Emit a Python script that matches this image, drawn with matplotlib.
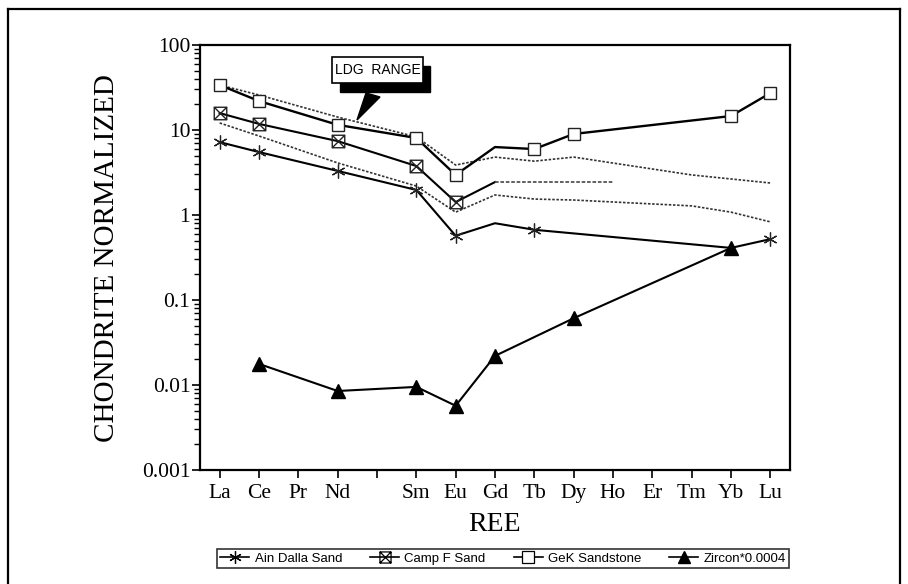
import matplotlib
matplotlib.use("Agg")
import matplotlib.pyplot as plt
import numpy as np
from matplotlib.path import Path
from matplotlib.lines import Line2D
from matplotlib.patches import Rectangle, Polygon
from matplotlib.ticker import FixedLocator, FixedFormatter, LogLocator, NullFormatter

# ---------------- data ----------------
elements = ["La", "Ce", "Pr", "Nd", "Pm", "Sm", "Eu", "Gd", "Tb", "Dy", "Ho", "Er", "Tm", "Yb", "Lu"]
tick_labels = ["La", "Ce", "Pr", "Nd", "", "Sm", "Eu", "Gd", "Tb", "Dy", "Ho", "Er", "Tm", "Yb", "Lu"]

ain_el = ["La", "Ce", "Nd", "Sm", "Eu", "Gd", "Tb", "Yb", "Lu"]
ain_val = [7.2, 5.5, 3.3, 1.97, 0.57, 0.80, 0.67, 0.41, 0.52]
ain_mark = ["La", "Ce", "Nd", "Sm", "Eu", "Tb", "Lu"]

campf_el = ["La", "Ce", "Nd", "Sm", "Eu", "Gd", "Tb", "Dy", "Ho"]
campf_val = [15.8, 11.8, 7.4, 3.77, 1.42, 2.44, 2.44, 2.44, 2.44]
campf_mark = ["La", "Ce", "Nd", "Sm", "Eu"]

gek_el = ["La", "Ce", "Nd", "Sm", "Eu", "Gd", "Tb", "Dy", "Yb", "Lu"]
gek_val = [33.8, 21.9, 11.5, 8.05, 2.96, 6.3, 5.97, 8.98, 14.6, 27.2]
gek_mark = ["La", "Ce", "Nd", "Sm", "Eu", "Tb", "Dy", "Yb", "Lu"]

zircon_el = ["Ce", "Nd", "Sm", "Eu", "Gd", "Dy", "Yb"]
zircon_val = [0.0177, 0.0085, 0.0095, 0.0057, 0.022, 0.061, 0.41]

ldg_hi_el = ["La", "Ce", "Nd", "Sm", "Eu", "Gd", "Tb", "Dy", "Tm", "Lu"]
ldg_hi_val = [33.8, 25.8, 14.2, 8.3, 3.87, 4.8, 4.3, 4.8, 2.96, 2.38]
ldg_lo_el = ["La", "Ce", "Nd", "Sm", "Eu", "Gd", "Tb", "Dy", "Tm", "Yb", "Lu"]
ldg_lo_val = [12.1, 8.5, 4.1, 2.19, 1.08, 1.72, 1.54, 1.50, 1.28, 1.08, 0.83]

legend_labels = ["Ain Dalla Sand", "Camp F Sand", "GeK Sandstone", "Zircon*0.0004"]

# ---------------- helpers ----------------
pos = {e: i for i, e in enumerate(elements)}
def xs(lst):
    return [pos[e] for e in lst]

W, H = 908, 584
fig = plt.figure(figsize=(W / 100, H / 100), dpi=100)
ax = fig.add_axes([200 / W, (H - 470) / H, 590 / W, 425 / H])

serif = ["Liberation Serif", "DejaVu Serif"]
narrow = ["Liberation Sans Narrow", "Liberation Sans", "DejaVu Sans"]

# custom crossed-square marker
verts = [(-1, -1), (1, -1), (1, 1), (-1, 1), (-1, -1), (-1, -1), (1, 1), (-1, 1), (1, -1)]
codes = [Path.MOVETO, Path.LINETO, Path.LINETO, Path.LINETO, Path.CLOSEPOLY,
         Path.MOVETO, Path.LINETO, Path.MOVETO, Path.LINETO]
xsquare = Path(verts, codes)
asterisk = (6, 2, 0)

# LDG range dotted lines
ax.plot(xs(ldg_hi_el), ldg_hi_val, color="#333333", lw=1.2, ls=(0, (1.5, 1)))
ax.plot(xs(ldg_lo_el), ldg_lo_val, color="#333333", lw=1.2, ls=(0, (1.5, 1)))

# Ain Dalla Sand
ax.plot(xs(ain_el), ain_val, color="black", lw=1.5)
ax.plot(xs(ain_mark), [ain_val[ain_el.index(e)] for e in ain_mark], ls="none",
        marker=asterisk, ms=10, mew=0.9, color="#222222")

# Camp F Sand
gi = campf_el.index("Gd")
ax.plot(xs(campf_el[:gi + 1]), campf_val[:gi + 1], color="black", lw=1.5)
ax.plot(xs(campf_el[gi:]), campf_val[gi:], color="#555555", lw=1.3, ls=(0, (2, 1)))
ax.plot(xs(campf_mark), [campf_val[campf_el.index(e)] for e in campf_mark], ls="none",
        marker=xsquare, ms=9, mew=1.0, mfc="none", mec="#222222")

# GeK Sandstone
ax.plot(xs(gek_el), gek_val, color="black", lw=1.7)
ax.plot(xs(gek_mark), [gek_val[gek_el.index(e)] for e in gek_mark], ls="none",
        marker="s", ms=9, mew=1.0, mfc="white", mec="#222222")

# Zircon
ax.plot(xs(zircon_el), zircon_val, color="black", lw=1.5, marker="^", ms=10, mfc="black", mec="black")

# axes setup
ax.set_yscale("log")
ax.set_ylim(0.001, 100)
ax.set_xlim(-0.5, 14.5)
ax.xaxis.set_major_locator(FixedLocator(range(len(elements))))
ax.xaxis.set_major_formatter(FixedFormatter(tick_labels))
yt = [0.001, 0.01, 0.1, 1, 10, 100]
ax.yaxis.set_major_locator(FixedLocator(yt))
ax.yaxis.set_major_formatter(FixedFormatter(["0.001", "0.01", "0.1", "1", "10", "100"]))
ax.yaxis.set_minor_locator(LogLocator(base=10, subs=np.arange(2, 10)))
ax.yaxis.set_minor_formatter(NullFormatter())
ax.tick_params(axis="both", which="major", direction="out", length=6, width=1.2, colors="black")
ax.tick_params(axis="y", which="minor", direction="out", length=4, width=1.0)
ax.tick_params(axis="y", pad=1)
ax.tick_params(axis="x", pad=4)
for lab in ax.get_xticklabels() + ax.get_yticklabels():
    lab.set_fontfamily(serif)
    lab.set_fontsize(15.5)
for sp in ax.spines.values():
    sp.set_linewidth(1.6)

ax.set_xlabel("REE", fontfamily=serif, fontsize=20)
ax.xaxis.set_label_coords(0.5, -(512 - 470) / 425)
fig.text(107 / W, 1 - 258 / H, "CHONDRITE NORMALIZED", rotation=90, ha="center", va="center",
         fontfamily=serif, fontsize=21)

# LDG RANGE callout
def fr(x0, y0, w, h, **kw):
    return Rectangle((x0 / W, 1 - (y0 + h) / H), w / W, h / H, transform=fig.transFigure, **kw)
fig.patches.append(fr(340, 66, 90, 26, facecolor="black", edgecolor="black"))
fig.patches.append(fr(332, 57, 91, 26, facecolor="white", edgecolor="black", lw=1.2))
fig.text(377.5 / W, 1 - 70 / H, "LDG  RANGE", ha="center", va="center", fontfamily=narrow, fontsize=10)
fig.patches.append(Polygon([(366 / W, 1 - 93 / H), (380 / W, 1 - 97 / H), (357 / W, 1 - 120 / H)],
                           closed=True, transform=fig.transFigure, facecolor="black", edgecolor="black"))

# legend
handles = [
    Line2D([], [], color="black", lw=1.2, marker=asterisk, ms=9, mew=0.9),
    Line2D([], [], color="black", lw=1.2, marker=xsquare, ms=8, mfc="none", mew=0.9),
    Line2D([], [], color="black", lw=1.2, marker="s", ms=8, mfc="white", mew=0.9),
    Line2D([], [], color="black", lw=1.2, marker="^", ms=9, mfc="black"),
]
leg = fig.legend(handles, legend_labels, loc="lower left", ncol=4, mode="expand",
                 bbox_to_anchor=(217 / W, 1 - 568 / H, 572 / W, 20 / H),
                 prop={"family": narrow, "size": 9.5}, frameon=True, fancybox=False,
                 handlelength=2.2, handletextpad=0.4, columnspacing=1.0, borderpad=0.25,
                 borderaxespad=0)
leg.get_frame().set_edgecolor("black")
leg.get_frame().set_linewidth(1.2)

# outer border
for (x0, y0, x1, y1) in [(8, 9, 900, 9), (8, 9, 8, 584), (900, 9, 900, 584)]:
    fig.add_artist(Line2D([x0 / W, x1 / W], [1 - y0 / H, 1 - y1 / H], transform=fig.transFigure,
                          color="black", lw=1.6))

fig.savefig("out.png", dpi=100)
